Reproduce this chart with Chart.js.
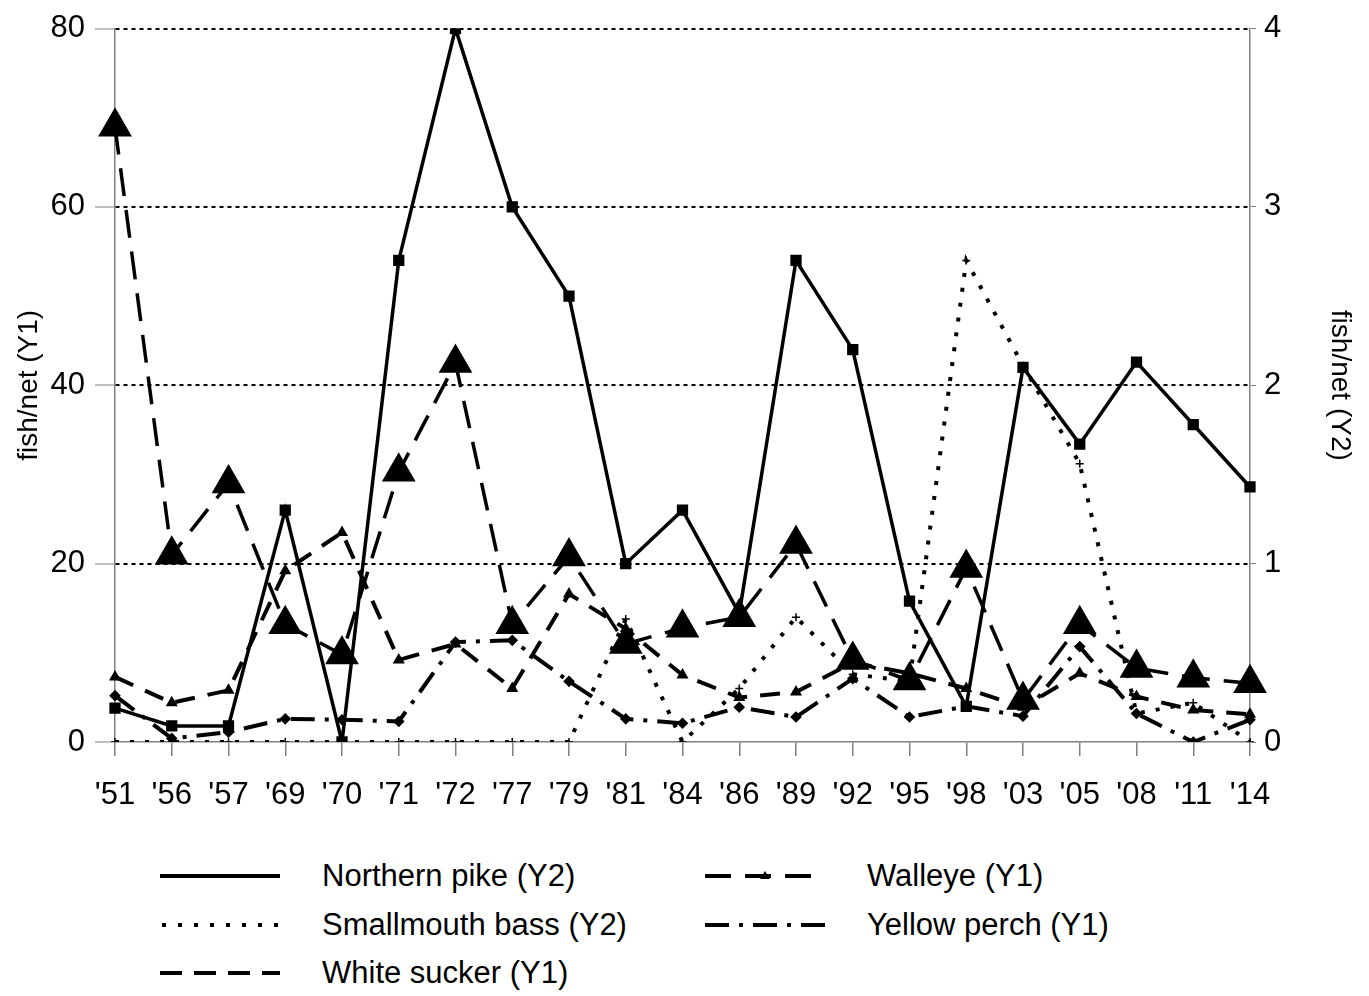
<!DOCTYPE html>
<html lang="en">
<head>
    <meta charset="UTF-8">
    <title>Fish per net</title>
    <script src="https://cdn.jsdelivr.net/npm/chart.js"></script>
    <style>
        body {
            margin: 0;
            background: #fff;
            font-family: "Liberation Sans", Arial, sans-serif;
        }
        .wrap {
            position: relative;
            width: 1369px;
            height: 996px;
        }
        #fishChart {
            position: absolute;
            left: 0;
            top: 0;
        }
        .legend-item {
            position: absolute;
            height: 40px;
            display: flex;
            align-items: center;
            font-size: 31px;
            color: #000;
        }
        .legend-item svg {
            margin-right: 42px;
        }
    </style>
</head>
<body>
<div class="wrap">
    <canvas id="fishChart" width="1369" height="830"></canvas>

    <!-- Legend (two columns, like the original) -->
    <div class="legend-item" style="left:160px; top:856px;">
        <svg width="120" height="10"><line x1="0" y1="5" x2="120" y2="5" stroke="#000" stroke-width="4"/></svg>
        Northern pike (Y2)
    </div>
    <div class="legend-item" style="left:705px; top:856px;">
        <svg width="120" height="12"><line x1="0" y1="6" x2="120" y2="6" stroke="#000" stroke-width="4" stroke-dasharray="26,14"/><polygon points="60,1 65,9 55,9" fill="#000"/></svg>
        Walleye (Y1)
    </div>
    <div class="legend-item" style="left:160px; top:905px;">
        <svg width="120" height="10"><line x1="2" y1="5" x2="120" y2="5" stroke="#000" stroke-width="4" stroke-dasharray="4,12"/></svg>
        Smallmouth bass (Y2)
    </div>
    <div class="legend-item" style="left:705px; top:905px;">
        <svg width="120" height="10"><line x1="0" y1="5" x2="120" y2="5" stroke="#000" stroke-width="4" stroke-dasharray="24,10,4,10"/></svg>
        Yellow perch (Y1)
    </div>
    <div class="legend-item" style="left:160px; top:953px;">
        <svg width="120" height="10"><line x1="0" y1="5" x2="120" y2="5" stroke="#000" stroke-width="4" stroke-dasharray="22,12"/></svg>
        White sucker (Y1)
    </div>
</div>

<script>
    // survey years
    const years = ["'51", "'56", "'57", "'69", "'70", "'71", "'72", "'77", "'79", "'81", "'84",
                   "'86", "'89", "'92", "'95", "'98", "'03", "'05", "'08", "'11", "'14"];

    // right axis (Y2)
    const northernPike   = [0.19, 0.09, 0.09, 1.3, 0, 2.7, 4.0, 3.0, 2.5, 1.0, 1.3,
                            0.72, 2.7, 2.2, 0.79, 0.2, 2.1, 1.67, 2.13, 1.78, 1.43];
    const smallmouthBass = [0, 0, 0, 0, 0, 0, 0, 0, 0, 0.69, 0,
                            0.3, 0.7, 0.38, 0.34, 2.7, 2.11, 1.56, 0.16, 0.22, 0];

    // left axis (Y1)
    const walleye     = [69, 21, 29, 13.2, 9.8, 30.3, 42.5, 13.2, 20.8, 11, 12.8,
                         14, 22.2, 9.2, 6.9, 19.5, 4.7, 13.2, 8.3, 7.2, 6.6];
    const yellowPerch = [5.2, 0.4, 1.1, 2.6, 2.5, 2.3, 11.2, 11.4, 6.8, 2.6, 2.1,
                         3.9, 2.8, 7.1, 2.8, 4.0, 2.9, 10.7, 3.2, 0, 2.5];
    const whiteSucker = [7.3, 4.4, 5.8, 19.2, 23.5, 9.2, 11, 6, 16.6, 12.7, 7.5,
                         5.0, 5.6, 8.9, 7.7, 6.0, 3.9, 7.7, 5.1, 3.6, 3.1];

    const y1Ticks = [0, 20, 40, 60, 80];
    const y2Ticks = [0, 1, 2, 3, 4];

    const fontFamily = '"Liberation Sans", Arial, sans-serif';
    const axisGray = '#808080';

    const ctx = document.getElementById('fishChart').getContext('2d');

    new Chart(ctx, {
        type: 'line',
        data: {
            labels: years,
            datasets: [
                {
                    label: 'Northern pike (Y2)',
                    data: northernPike,
                    yAxisID: 'y2',
                    borderColor: '#000',
                    backgroundColor: '#000',
                    borderWidth: 3.5,
                    pointStyle: 'rect',
                    pointRadius: 5.5,
                    tension: 0
                },
                {
                    label: 'Walleye (Y1)',
                    data: walleye,
                    yAxisID: 'y',
                    borderColor: '#000',
                    backgroundColor: '#000',
                    borderWidth: 3.5,
                    borderDash: [28, 14],
                    pointStyle: 'triangle',
                    pointRadius: 16,
                    tension: 0
                },
                {
                    label: 'Smallmouth bass (Y2)',
                    data: smallmouthBass,
                    yAxisID: 'y2',
                    borderColor: '#000',
                    backgroundColor: '#000',
                    borderWidth: 4,
                    borderDash: [4, 11],
                    pointStyle: 'cross',
                    pointRadius: 4,
                    pointBorderWidth: 1.5,
                    tension: 0
                },
                {
                    label: 'Yellow perch (Y1)',
                    data: yellowPerch,
                    yAxisID: 'y',
                    borderColor: '#000',
                    backgroundColor: '#000',
                    borderWidth: 4,
                    borderDash: [24, 10, 4, 10],
                    pointStyle: 'rectRot',
                    pointRadius: 3,
                    tension: 0
                },
                {
                    label: 'White sucker (Y1)',
                    data: whiteSucker,
                    yAxisID: 'y',
                    borderColor: '#000',
                    backgroundColor: '#000',
                    borderWidth: 4,
                    borderDash: [20, 13],
                    pointStyle: 'triangle',
                    pointRadius: 3,
                    tension: 0
                }
            ]
        },
        options: {
            responsive: false,
            animation: false,
            devicePixelRatio: 1,
            layout: { padding: { top: 25, left: 0, right: 0, bottom: 0 } },
            plugins: {
                legend: { display: false },
                tooltip: { enabled: false }
            },
            scales: {
                x: {
                    offset: false,
                    grid: {
                        drawOnChartArea: false,
                        drawTicks: true,
                        tickLength: 14,
                        color: axisGray,
                        lineWidth: 1.5
                    },
                    border: { color: axisGray, width: 1.5 },
                    ticks: {
                        color: '#000',
                        font: { family: fontFamily, size: 31 },
                        padding: 21,
                        maxRotation: 0,
                        autoSkip: false
                    },
                    afterFit(scale) { scale.height = 88; }
                },
                y: {
                    position: 'left',
                    min: 0,
                    max: 80,
                    afterBuildTicks(scale) { scale.ticks = y1Ticks.map(v => ({ value: v })); },
                    ticks: {
                        color: '#000',
                        font: { family: fontFamily, size: 31 },
                        padding: 10
                    },
                    grid: {
                        color: c => c.tick && c.tick.value === 0 ? 'rgba(0,0,0,0)' : '#000',
                        lineWidth: 2,
                        tickLength: 20,
                        tickColor: axisGray,
                        tickWidth: 1,
                        tickBorderDash: []
                    },
                    border: { color: axisGray, width: 1.5, dash: [4, 4] },
                    title: {
                        display: true,
                        text: 'fish/net (Y1)',
                        color: '#000',
                        font: { family: fontFamily, size: 28 },
                        padding: { top: 12, bottom: 0 }
                    },
                    afterFit(scale) { scale.width = 115; }
                },
                y2: {
                    position: 'right',
                    min: 0,
                    max: 4,
                    afterBuildTicks(scale) { scale.ticks = y2Ticks.map(v => ({ value: v })); },
                    ticks: {
                        color: '#000',
                        font: { family: fontFamily, size: 31 },
                        padding: 8
                    },
                    grid: {
                        drawOnChartArea: false,
                        tickLength: 6,
                        color: axisGray
                    },
                    border: { color: axisGray, width: 1.5 },
                    title: {
                        display: true,
                        text: 'fish/net (Y2)',
                        color: '#000',
                        font: { family: fontFamily, size: 28 },
                        padding: { top: 12, bottom: 0 }
                    },
                    afterFit(scale) { scale.width = 119; }
                }
            }
        }
    });
</script>
</body>
</html>
